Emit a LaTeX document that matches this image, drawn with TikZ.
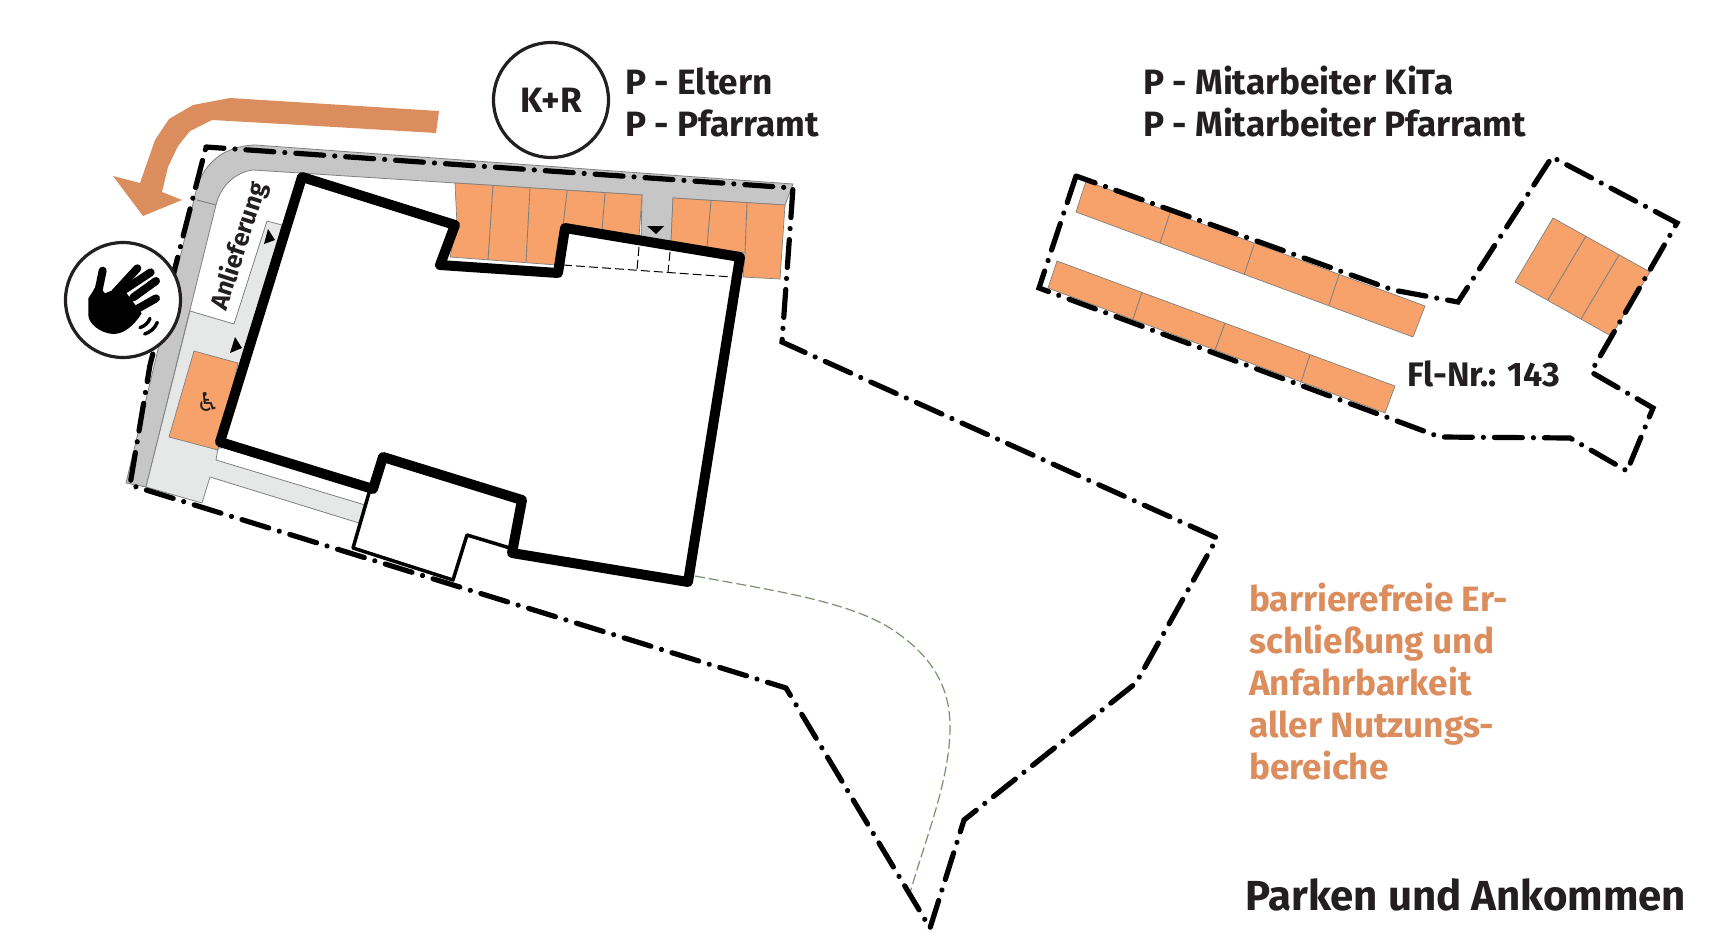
\documentclass[tikz,border=0pt]{standalone}
\usepackage{fontspec}
\setmainfont{Fira Sans}[BoldFont={Fira Sans Bold}]
\newfontfamily\wheelfont{DejaVu Sans}
\usepackage{tikz}
\usetikzlibrary{calc, positioning}
\definecolor{roadgrey}{HTML}{C6C6C6}
\definecolor{pathgrey}{HTML}{E6E7E7}
\definecolor{parkorange}{HTML}{F6A26A}
\definecolor{arroworange}{HTML}{DB8D5E}
\definecolor{inkblack}{HTML}{231F20}
\definecolor{lawngreen}{HTML}{7A8F70}
\tikzstyle{road}=[fill=roadgrey, draw=gray, line width=0.8pt]
\tikzstyle{walk}=[fill=pathgrey, draw=gray, line width=0.8pt]
\tikzstyle{park}=[fill=parkorange, draw=gray, line width=0.7pt]
\tikzstyle{divider}=[draw=gray, line width=0.9pt]
\tikzstyle{wall}=[draw=black, line width=10pt, line join=round, line cap=round]
\tikzstyle{thinwall}=[draw=black, line width=3.5pt, line join=round, line cap=round]
\tikzstyle{plot}=[draw=black, line width=5.2pt, line cap=round, dash pattern=on 28pt off 11pt on 0.01pt off 11pt]
\tikzstyle{sign}=[circle, draw=inkblack, fill=white, line width=3.2pt, inner sep=0pt, minimum size=115pt]
\tikzstyle{label}=[inner sep=0pt, text=inkblack, font=\fontsize{35.2}{42}\selectfont\bfseries, align=left]

\begin{document}
\begin{tikzpicture}[x=1pt, y=-1pt]
\useasboundingbox (0,0) rectangle (1731,944);
%
\draw[road] (255,145) -- (793,184) -- (785,205) -- (673,198) -- (671,243) -- (641,240) -- (642,195) -- (253,170) .. controls (235,172) and (220,187) .. (216,205) -- (146,487) -- (126,483) -- (197,187) .. controls (204,165) and (222,146) .. (255,145) -- cycle;
\draw[divider] (197,200) -- (216,205);
\draw[walk] (267,221) -- (282,225) -- (222,448) -- (218,448) -- (216,460) -- (365,505) -- (359,523) -- (210,477) -- (202,503) -- (146,487) -- (190,311) -- (234,324) -- cycle;
%
\draw[park] (194,351) -- (238,363) -- (218,450) -- (169,437) -- cycle;
\draw[park] (455,183) -- (642,195) -- (639,237) -- (565,227) -- (557,265) -- (450,257) -- (457,225) -- cycle;
\draw[park] (673,198) -- (785,205) -- (780,279) -- (743,277) -- (745,253) -- (671,242) -- cycle;
\draw[park] (1086,181) -- (1425,306) -- (1413,337) -- (1076,212) -- cycle;
\draw[park] (1057,261) -- (1395,386) -- (1385,413) -- (1048,288) -- cycle;
\draw[park] (1553,218) -- (1650,272) -- (1611,336) -- (1515,282) -- cycle;
\foreach \xa/\ya/\xb/\yb in {493/185/488/260, 530/188/526/262, 567/191/563/227, 605/193/602/231, 711/200/707/247, 747/203/745/253, 1170/213/1160/243, 1254/245/1244/275, 1339/275/1329/305, 1142/292/1132/322, 1225/323/1214/353, 1310/355/1300/385, 1586/236/1548/300, 1619/255/1581/319}
  \draw[divider] (\xa,\ya) -- (\xb,\yb);
%
\draw[black, line width=1pt, dash pattern=on 9pt off 4pt] (563,265) -- (732,277);
\draw[black, line width=1pt, dash pattern=on 9pt off 4pt] (639,247) -- (637,270);
\draw[black, line width=1pt, dash pattern=on 9pt off 4pt] (670,252) -- (668,272);
\draw[lawngreen, line width=1.2pt, dash pattern=on 10pt off 4pt] (695,576) .. controls (770,590) and (840,600) .. (885,625) .. controls (935,655) and (950,690) .. (950,727) .. controls (950,780) and (925,840) .. (910,893);
%
\fill[black] (268,229) -- (275,240) -- (264,244) -- cycle;
\fill[black] (235,337) -- (242,348) -- (230,353) -- cycle;
\fill[black] (647,226) -- (664,226) -- (656,234) -- cycle;
\node[inner sep=0pt, text=inkblack, font=\wheelfont\fontsize{26}{26}\selectfont] (wheelchair) at (208,402) {♿};
%
\draw[wall] (302,177) -- (455,225) -- (440,265) -- (558,273) -- (565,228) -- (740,257) -- (688,582) -- (512,553) -- (522,500) -- (383,457) -- (373,489) -- (220,442) -- cycle;
\draw[thinwall] (369,493) -- (353,548) -- (453,580) -- (467,535) -- (510,548);
%
\draw[plot, dash phase=10pt] (206,147) -- (793,188) -- (782,342) -- (1217,538) -- (1136,683) -- (964,820) -- (930,928) -- (786,688) -- (130,485) -- (150,365) -- cycle;
\draw[plot] (1076,176) -- (1039,288) -- (1440,437) -- (1570,438) -- (1627,471) -- (1653,408) -- (1591,372) -- (1677,223) -- (1552,157) -- (1458,302) -- (1393,290) -- cycle;
%
\fill[arroworange] (439,111) -- (436,133) -- (300,125) -- (212,120) -- (190,131) -- (178,146) -- (168,167) -- (162,192) -- (182,200) -- (143,216) -- (113,176) -- (140,183) -- (155,140) -- (169,119) -- (193,105) -- (230,98) -- cycle;
%
\node[sign] (handsign) at (123,300) {};
\node[sign] (krsign) at (551,100) {};
\begin{scope}[shift={(50,230)}, scale=1/3]
\fill[black] (115,205) .. controls (125,190) and (135,175) .. (140,160) -- (165,190) -- (215,170) -- (275,250) .. controls (250,290) and (220,312) .. (190,312) .. controls (150,310) and (115,280) .. (115,255) -- cycle;
\foreach \xa/\ya/\xb/\yb in {158/122/144/190, 195/188/262/115, 225/178/302/127, 250/202/318/153, 265/235/318/205}
  \draw[black, line width=8pt, line cap=round] (\xa,\ya) -- (\xb,\yb);
\draw[black, line width=3.4pt, line cap=round] (270,293) .. controls (285,288) and (295,278) .. (300,265);
\draw[black, line width=3.4pt, line cap=round] (284,312) .. controls (300,307) and (315,295) .. (322,277);
\end{scope}
%
\node[label, anchor=base] (krlabel) at (551,113) {K+R};
\node[label, anchor=north west] (parkleft) at (625,68) {P - Eltern\\P - Pfarramt};
\node[label, anchor=north west] (parkright) at (1143,66) {P - Mitarbeiter KiTa\\P - Mitarbeiter Pfarramt};
\node[label, anchor=base west, font=\fontsize{34}{34}\selectfont\bfseries] (flnr) at (1407,386) {Fl-Nr.: 143};
\node[label, anchor=north west, text=arroworange] (access) at (1249,583) {barrierefreie Er-\\schließung und\\Anfahrbarkeit\\aller Nutzungs-\\bereiche};
\node[label, anchor=base west, font=\fontsize{42}{42}\selectfont\bfseries] (title) at (1245,910) {Parken und Ankommen};
\node[label, anchor=base west, rotate=72, font=\fontsize{25}{25}\selectfont\bfseries] (delivery) at (226,312) {Anlieferung};
\end{tikzpicture}
\end{document}
